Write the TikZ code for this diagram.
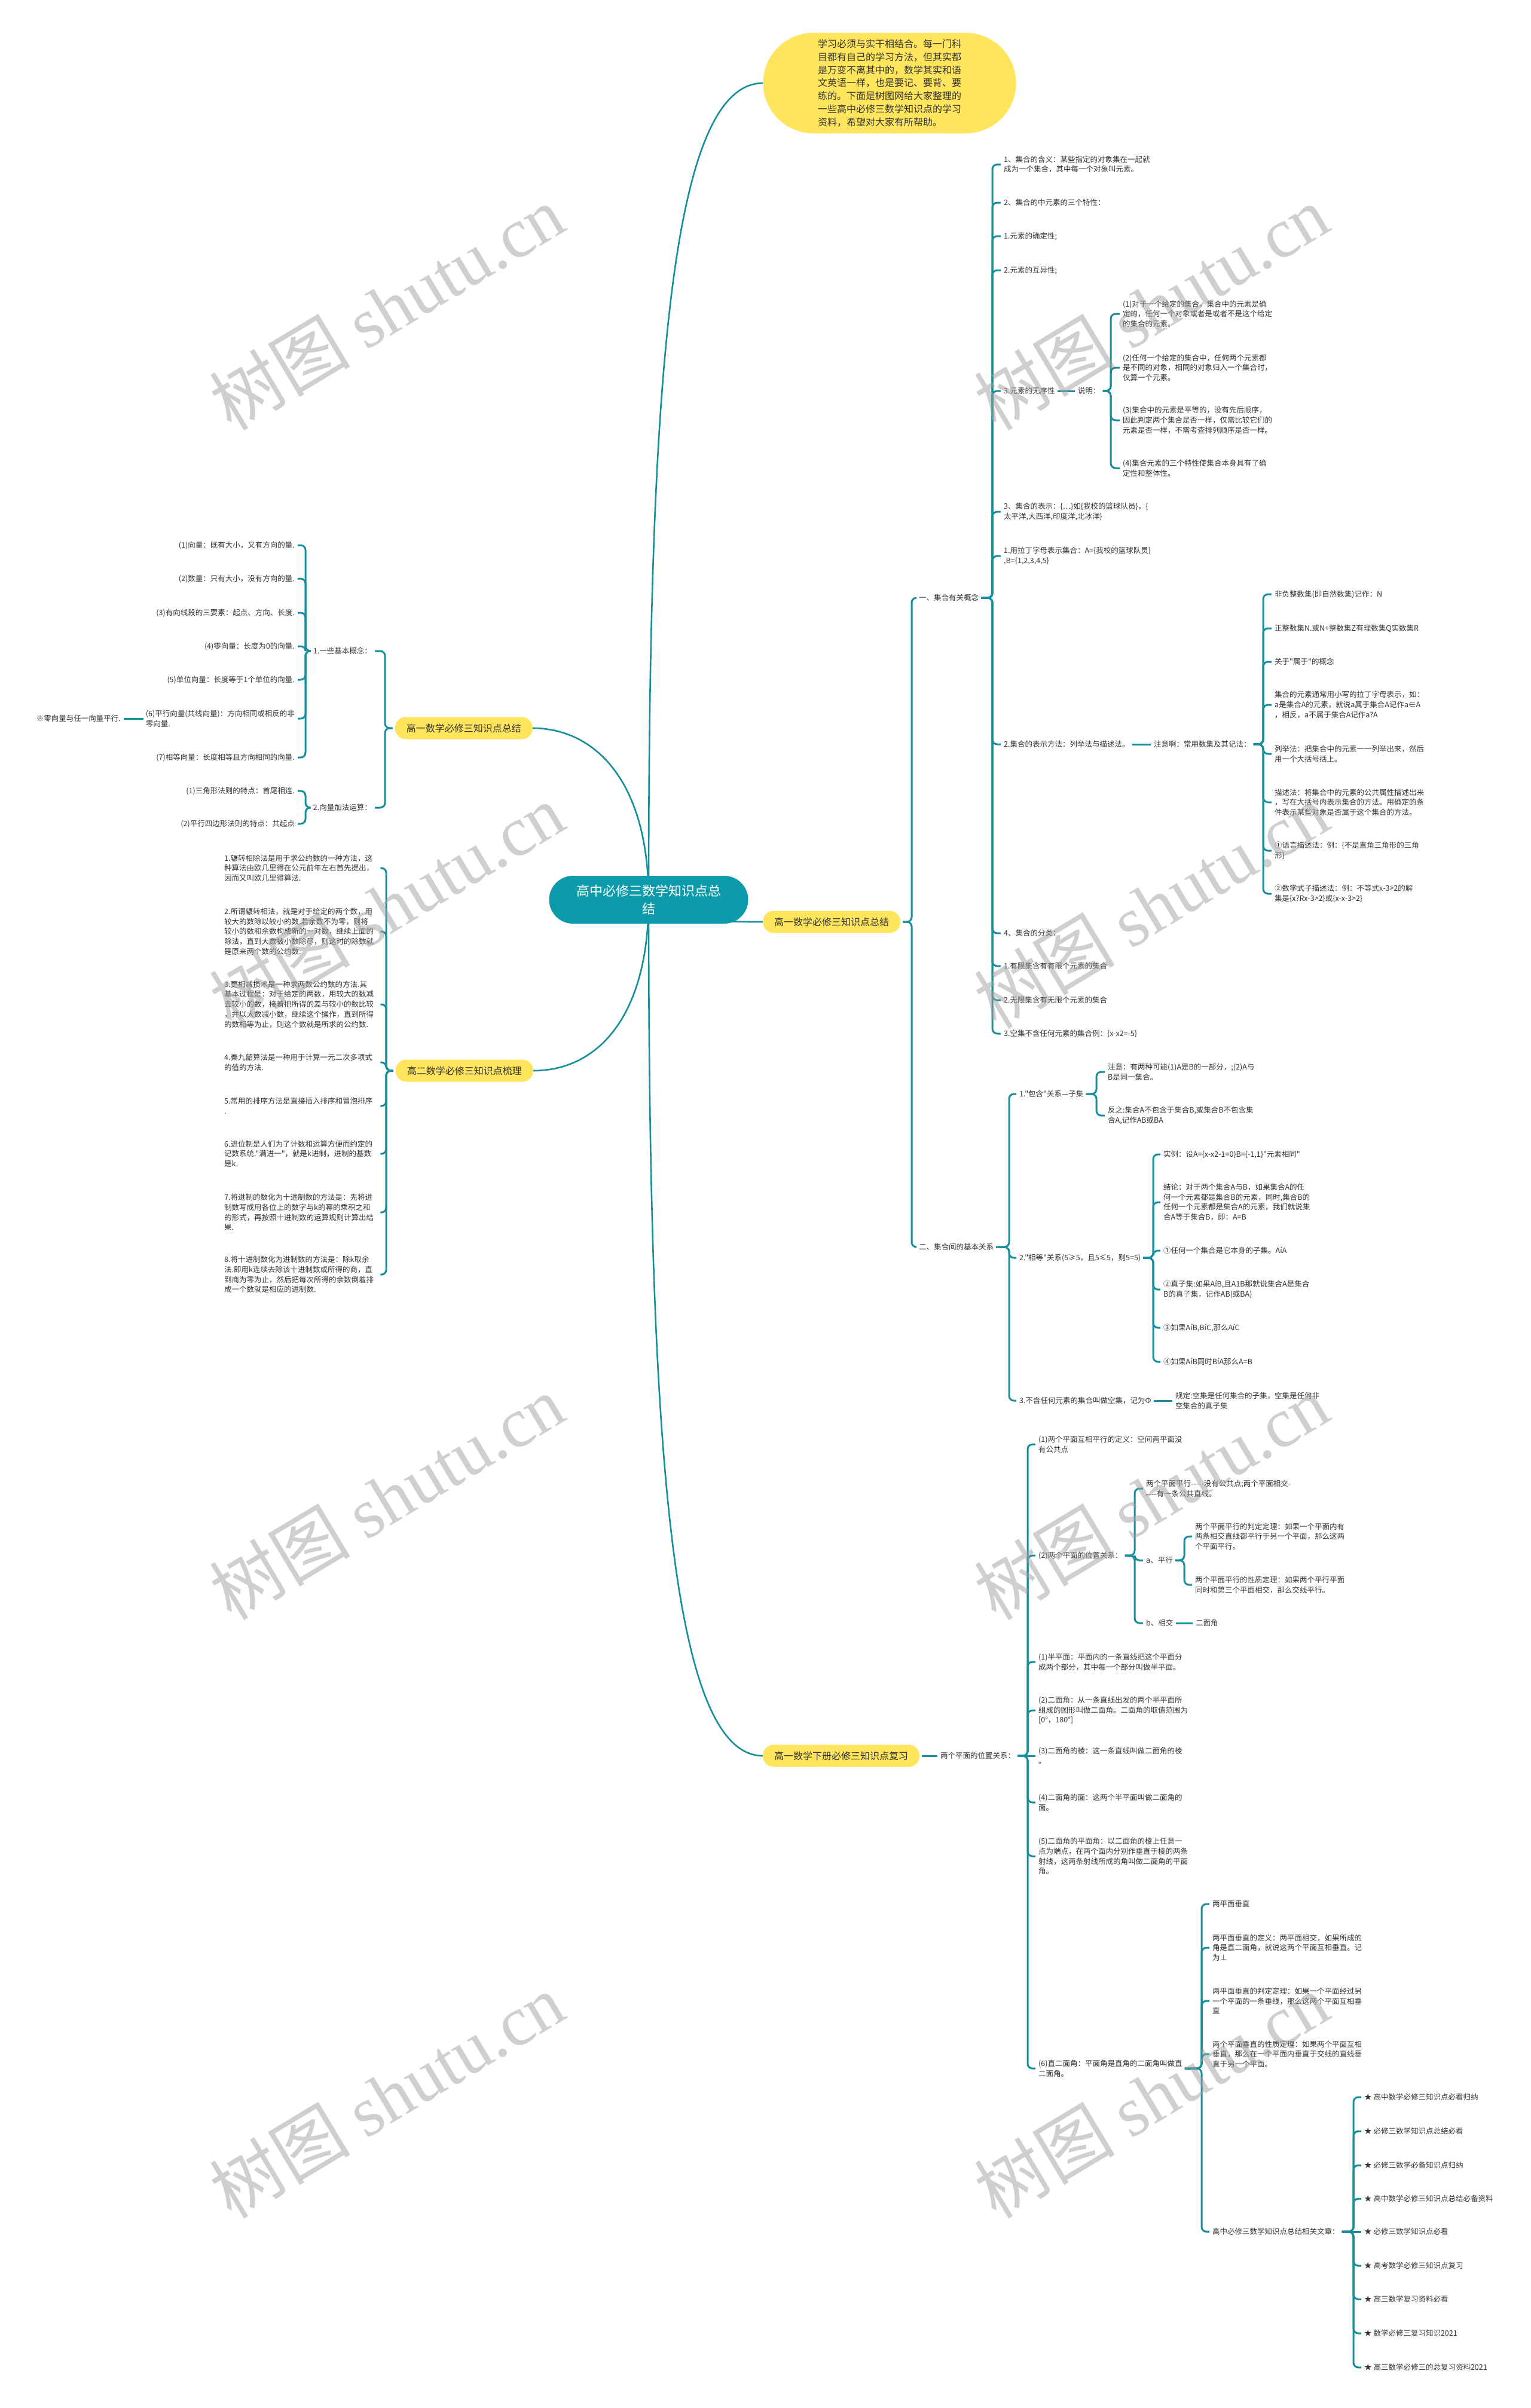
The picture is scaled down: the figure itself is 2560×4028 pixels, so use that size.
\documentclass[tikz,border=0pt]{standalone}
\usepackage{fontspec}
\newfontfamily\cjkf{Noto Sans CJK SC}
\newfontfamily\wmserif{Liberation Serif}
\usetikzlibrary{calc}
\pgfdeclarelayer{back}\pgfdeclarelayer{bg}\pgfdeclarelayer{front}
\pgfsetlayers{back,bg,main,front}
\definecolor{lk}{HTML}{168E9C}
\definecolor{cenc}{HTML}{0D9AAA}
\definecolor{yel}{HTML}{FFE55C}
\definecolor{txt}{HTML}{333333}
\definecolor{wmc}{HTML}{A0A0A0}
\tikzset{
 link/.style={draw=lk, line width=3pt, rounded corners=8pt},
 clink/.style={draw=lk, line width=2.6pt},
 txtnode/.style={inner sep=0pt, anchor=west, align=left, text=txt, font=\cjkf\fontsize{12.5}{16.7}\selectfont},
 txtleft/.style={txtnode, anchor=east},
 txtblock/.style={txtnode, text width=256pt},
 pillbox/.style={fill=yel, rounded corners=18pt, minimum height=37pt, inner xsep=19pt, inner ysep=0pt, text=txt, font=\cjkf\fontsize{16}{20}\selectfont},
 cenbox/.style={fill=cenc, text=white, rounded corners=40pt, minimum width=333pt, minimum height=80pt, inner sep=0pt, align=center, font=\cjkf\fontsize{22}{29.5}\selectfont},
 introbox/.style={fill=yel, rounded corners=84pt, minimum width=423pt, minimum height=168pt, inner sep=0pt, align=left, text=txt, font=\cjkf\fontsize{16}{21.7}\selectfont},
 wmark/.style={rotate=31, text=wmc, text opacity=0.5, inner sep=0pt, font=\cjkf\fontsize{118}{118}\selectfont}
}
\newcommand\rlink[3]{\draw[link] ([xshift=4pt]#1.east) -| (#2 |- #3.west) -- ([xshift=-5pt]#3.west);}
\newcommand\llink[3]{\draw[link] ([xshift=-4pt]#1.west) -| (#2 |- #3.east) -- ([xshift=5pt]#3.east);}
\newcommand\slink[2]{\draw[link] ([xshift=4pt]#1.east) -- ([xshift=-5pt]#2.west);}
\newcommand\slinkl[2]{\draw[link] ([xshift=-4pt]#1.west) -- ([xshift=5pt]#2.east);}
\begin{document}
\begin{tikzpicture}[x=1pt,y=-1pt]
\begin{pgfonlayer}{back}
\fill[white] (0,0) rectangle (2560,4028);
\end{pgfonlayer}
\useasboundingbox (0,0) rectangle (2560,4028);

% spine x coordinates
\coordinate (xA) at (1525,0);
\coordinate (x1) at (1660,0);
\coordinate (x2) at (1858,0);
\coordinate (x3) at (2113,0);
\coordinate (x4) at (1688,0);
\coordinate (x5) at (1834,0);
\coordinate (x6) at (1929,0);
\coordinate (x7) at (1719,0);
\coordinate (x8) at (1898,0);
\coordinate (x9) at (1981,0);
\coordinate (x10) at (2010,0);
\coordinate (x11) at (2264,0);
\coordinate (xL1) at (644,0);
\coordinate (xL2) at (511,0);
\coordinate (xL4) at (646,0);

% centre, intro, main branches
\node[cenbox] (cen) at (1085,1505) {高中必修三数学知识点总\\结};
\node[introbox] (intro) at (1488,139) {学习必须与实干相结合。每一门科\\目都有自己的学习方法，但其实都\\是万变不离其中的，数学其实和语\\文英语一样，也是要记、要背、要\\练的。下面是树图网给大家整理的\\一些高中必修三数学知识点的学习\\资料，希望对大家有所帮助。};
\node[pillbox, anchor=west] (rA) at (1276,1542) {高一数学必修三知识点总结};
\node[pillbox, anchor=west] (rB) at (1276,2937) {高一数学下册必修三知识点复习};
\node[pillbox, anchor=east] (lA) at (891,1218) {高一数学必修三知识点总结};
\node[pillbox, anchor=east] (lB) at (892,1791) {高二数学必修三知识点梳理};

% right A
\node[txtnode] (a1) at (1537,1000) {一、集合有关概念};
\node[txtnode] (a2) at (1537,2086) {二、集合间的基本关系};

\node[txtnode] (a1c1) at (1679,275) {1、集合的含义：某些指定的对象集在一起就\\成为一个集合，其中每一个对象叫元素。};
\node[txtnode] (a1c2) at (1679,339) {2、集合的中元素的三个特性：};
\node[txtnode] (a1c3) at (1679,395) {1.元素的确定性;};
\node[txtnode] (a1c4) at (1679,452) {2.元素的互异性;};
\node[txtnode] (a1c5) at (1679,654) {3.元素的无序性};
\node[txtnode] (a1c6) at (1679,856) {3、集合的表示：\{…\}如\{我校的篮球队员\}，\{\\太平洋,大西洋,印度洋,北冰洋\}};
\node[txtnode] (a1c7) at (1679,930) {1.用拉丁字母表示集合：A=\{我校的篮球队员\}\\,B=\{1,2,3,4,5\}};
\node[txtnode] (a1c8) at (1679,1245) {2.集合的表示方法：列举法与描述法。};
\node[txtnode] (a1c9) at (1679,1561) {4、集合的分类：};
\node[txtnode] (a1c10) at (1679,1616) {1.有限集含有有限个元素的集合};
\node[txtnode] (a1c11) at (1679,1673) {2.无限集含有无限个元素的集合};
\node[txtnode] (a1c12) at (1679,1729) {3.空集不含任何元素的集合例：\{x-x2=-5\}};

\node[txtnode] (sm) at (1803,654) {说明：};
\node[txtnode] (sm1) at (1878,525) {(1)对于一个给定的集合，集合中的元素是确\\定的，任何一个对象或者是或者不是这个给定\\的集合的元素。};
\node[txtnode] (sm2) at (1878,615) {(2)任何一个给定的集合中，任何两个元素都\\是不同的对象，相同的对象归入一个集合时，\\仅算一个元素。};
\node[txtnode] (sm3) at (1878,703) {(3)集合中的元素是平等的，没有先后顺序，\\因此判定两个集合是否一样，仅需比较它们的\\元素是否一样，不需考查排列顺序是否一样。};
\node[txtnode] (sm4) at (1878,783) {(4)集合元素的三个特性使集合本身具有了确\\定性和整体性。};

\node[txtnode] (zy) at (1930,1245) {注意啊：常用数集及其记法：};
\node[txtnode] (zy1) at (2132,994) {非负整数集(即自然数集)记作：N};
\node[txtnode] (zy2) at (2132,1051) {正整数集N.或N+整数集Z有理数集Q实数集R};
\node[txtnode] (zy3) at (2132,1107) {关于"属于"的概念};
\node[txtnode] (zy4) at (2132,1179) {集合的元素通常用小写的拉丁字母表示，如：\\a是集合A的元素，就说a属于集合A记作a∈A\\，相反，a不属于集合A记作a?A};
\node[txtnode] (zy5) at (2132,1261) {列举法：把集合中的元素一一列举出来，然后\\用一个大括号括上。};
\node[txtnode] (zy6) at (2132,1342) {描述法：将集合中的元素的公共属性描述出来\\，写在大括号内表示集合的方法。用确定的条\\件表示某些对象是否属于这个集合的方法。};
\node[txtnode] (zy7) at (2132,1423) {①语言描述法：例：\{不是直角三角形的三角\\形\}};
\node[txtnode] (zy8) at (2132,1495) {②数学式子描述法：例：不等式x-3>2的解\\集是\{x?Rx-3>2\}或\{x-x-3>2\}};

\node[txtnode] (b1) at (1705,1830) {1."包含"关系—子集};
\node[txtnode] (b2) at (1705,2104) {2."相等"关系(5≥5，且5≤5，则5=5)};
\node[txtnode] (b3) at (1705,2343) {3.不含任何元素的集合叫做空集，记为Φ};
\node[txtnode] (b11) at (1853,1793) {注意：有两种可能(1)A是B的一部分，;(2)A与\\B是同一集合。};
\node[txtnode] (b12) at (1853,1866) {反之:集合A不包含于集合B,或集合B不包含集\\合A,记作AB或BA};
\node[txtnode] (b21) at (1946,1931) {实例：设A=\{x-x2-1=0\}B=\{-1,1\}"元素相同"};
\node[txtnode] (b22) at (1946,2011) {结论：对于两个集合A与B，如果集合A的任\\何一个元素都是集合B的元素，同时,集合B的\\任何一个元素都是集合A的元素，我们就说集\\合A等于集合B，即：A=B};
\node[txtnode] (b23) at (1946,2092) {①任何一个集合是它本身的子集。AíA};
\node[txtnode] (b24) at (1946,2157) {②真子集:如果AíB,且A1B那就说集合A是集合\\B的真子集，记作AB(或BA)};
\node[txtnode] (b25) at (1946,2221) {③如果AíB,BíC,那么AíC};
\node[txtnode] (b26) at (1946,2278) {④如果AíB同时BíA那么A=B};
\node[txtnode] (b31) at (1966,2343) {规定:空集是任何集合的子集，空集是任何非\\空集合的真子集};

% right B
\node[txtnode] (p0) at (1573,2937) {两个平面的位置关系：};
\node[txtnode] (p1) at (1737,2416) {(1)两个平面互相平行的定义：空间两平面没\\有公共点};
\node[txtnode] (p2) at (1737,2602) {(2)两个平面的位置关系：};
\node[txtnode] (p3) at (1737,2780) {(1)半平面：平面内的一条直线把这个平面分\\成两个部分，其中每一个部分叫做半平面。};
\node[txtnode] (p4) at (1737,2861) {(2)二面角：从一条直线出发的两个半平面所\\组成的图形叫做二面角。二面角的取值范围为\\{[}0°，180°{]}};
\node[txtnode] (p5) at (1737,2937) {(3)二面角的棱：这一条直线叫做二面角的棱\\。};
\node[txtnode] (p6) at (1737,3015) {(4)二面角的面：这两个半平面叫做二面角的\\面。};
\node[txtnode] (p7) at (1737,3105) {(5)二面角的平面角：以二面角的棱上任意一\\点为端点，在两个面内分别作垂直于棱的两条\\射线，这两条射线所成的角叫做二面角的平面\\角。};
\node[txtnode] (p8) at (1737,3460) {(6)直二面角：平面角是直角的二面角叫做直\\二面角。};
\node[txtnode] (q1) at (1917,2490) {两个平面平行-----没有公共点;两个平面相交-\\----有一条公共直线。};
\node[txtnode] (q2) at (1917,2610) {a、平行};
\node[txtnode] (q3) at (1917,2715) {b、相交};
\node[txtnode] (q21) at (1999,2570) {两个平面平行的判定定理：如果一个平面内有\\两条相交直线都平行于另一个平面，那么这两\\个平面平行。};
\node[txtnode] (q22) at (1999,2651) {两个平面平行的性质定理：如果两个平行平面\\同时和第三个平面相交，那么交线平行。};
\node[txtnode] (q31) at (2000,2715) {二面角};
\node[txtnode] (r1) at (2028,3185) {两平面垂直};
\node[txtnode] (r2) at (2028,3258) {两平面垂直的定义：两平面相交，如果所成的\\角是直二面角，就说这两个平面互相垂直。记\\为⊥};
\node[txtnode] (r3) at (2028,3347) {两平面垂直的判定定理：如果一个平面经过另\\一个平面的一条垂线，那么这两个平面互相垂\\直};
\node[txtnode] (r4) at (2028,3436) {两个平面垂直的性质定理：如果两个平面互相\\垂直，那么在一个平面内垂直于交线的直线垂\\直于另一个平面。};
\node[txtnode] (r5) at (2028,3733) {高中必修三数学知识点总结相关文章：};
\node[txtnode] (s1) at (2282,3508) {★ 高中数学必修三知识点必看归纳};
\node[txtnode] (s2) at (2282,3565) {★ 必修三数学知识点总结必看};
\node[txtnode] (s3) at (2282,3622) {★ 必修三数学必备知识点归纳};
\node[txtnode] (s4) at (2282,3678) {★ 高中数学必修三知识点总结必备资料};
\node[txtnode] (s5) at (2282,3733) {★ 必修三数学知识点必看};
\node[txtnode] (s6) at (2282,3790) {★ 高考数学必修三知识点复习};
\node[txtnode] (s7) at (2282,3846) {★ 高三数学复习资料必看};
\node[txtnode] (s8) at (2282,3903) {★ 数学必修三复习知识2021};
\node[txtnode] (s9) at (2282,3960) {★ 高三数学必修三的总复习资料2021};

% left A
\node[txtleft] (la1) at (622,1089) {1.一些基本概念：};
\node[txtleft] (la2) at (622,1351) {2.向量加法运算：};
\node[txtleft] (la11) at (493,912) {(1)向量：既有大小，又有方向的量.};
\node[txtleft] (la12) at (493,968) {(2)数量：只有大小，没有方向的量.};
\node[txtleft] (la13) at (493,1025) {(3)有向线段的三要素：起点、方向、长度.};
\node[txtleft] (la14) at (493,1081) {(4)零向量：长度为0的向量.};
\node[txtleft] (la15) at (493,1137) {(5)单位向量：长度等于1个单位的向量.};
\node[txtleft] (la16) at (493,1202) {(6)平行向量(共线向量)：方向相同或相反的非\\零向量.};
\node[txtleft] (la17) at (493,1267) {(7)相等向量：长度相等且方向相同的向量.};
\node[txtleft] (la161) at (202,1202) {※零向量与任一向量平行.};
\node[txtleft] (la21) at (493,1323) {(1)三角形法则的特点：首尾相连.};
\node[txtleft] (la22) at (493,1378) {(2)平行四边形法则的特点：共起点};

% left B
\node[txtblock] (lb1) at (375,1452) {1.辗转相除法是用于求公约数的一种方法，这\\种算法由欧几里得在公元前年左右首先提出，\\因而又叫欧几里得算法.};
\node[txtblock] (lb2) at (375,1558) {2.所谓辗转相法，就是对于给定的两个数，用\\较大的数除以较小的数.若余数不为零，则将\\较小的数和余数构成新的一对数，继续上面的\\除法，直到大数被小数除尽，则这时的除数就\\是原来两个数的公约数.};
\node[txtblock] (lb3) at (375,1680) {3.更相减损术是一种求两数公约数的方法.其\\基本过程是：对于给定的两数，用较大的数减\\去较小的数，接着把所得的差与较小的数比较\\，并以大数减小数，继续这个操作，直到所得\\的数相等为止，则这个数就是所求的公约数.};
\node[txtblock] (lb4) at (375,1777) {4.秦九韶算法是一种用于计算一元二次多项式\\的值的方法.};
\node[txtblock] (lb5) at (375,1850) {5.常用的排序方法是直接插入排序和冒泡排序\\.};
\node[txtblock] (lb6) at (375,1930) {6.进位制是人们为了计数和运算方便而约定的\\记数系统."满进一"，就是k进制，进制的基数\\是k.};
\node[txtblock] (lb7) at (375,2028) {7.将进制的数化为十进制数的方法是：先将进\\制数写成用各位上的数字与k的幂的乘积之和\\的形式，再按照十进制数的运算规则计算出结\\果.};
\node[txtblock] (lb8) at (375,2132) {8.将十进制数化为进制数的方法是：除k取余\\法.即用k连续去除该十进制数或所得的商，直\\到商为零为止，然后把每次所得的余数倒着排\\成一个数就是相应的进制数.};

\begin{pgfonlayer}{bg}
\draw[clink] (cen.center) .. controls (1085,651) and (1120,139) .. (intro.west);
\draw[clink] (cen.center) .. controls (1160,1542) and (1200,1542) .. (rA.west);
\draw[clink] (cen.center) .. controls (1085,2400) and (1120,2937) .. (rB.west);
\draw[clink] (cen.center) .. controls (1085,1300) and (990,1218) .. (lA.east);
\draw[clink] (cen.center) .. controls (1085,1700) and (1000,1791) .. (lB.east);

\rlink{rA}{xA}{a1}\rlink{rA}{xA}{a2}
\foreach \c in {a1c1,a1c2,a1c3,a1c4,a1c5,a1c6,a1c7,a1c8,a1c9,a1c10,a1c11,a1c12}{\rlink{a1}{x1}{\c}}
\slink{a1c5}{sm}
\foreach \c in {sm1,sm2,sm3,sm4}{\rlink{sm}{x2}{\c}}
\slink{a1c8}{zy}
\foreach \c in {zy1,zy2,zy3,zy4,zy5,zy6,zy7,zy8}{\rlink{zy}{x3}{\c}}
\foreach \c in {b1,b2,b3}{\rlink{a2}{x4}{\c}}
\foreach \c in {b11,b12}{\rlink{b1}{x5}{\c}}
\foreach \c in {b21,b22,b23,b24,b25,b26}{\rlink{b2}{x6}{\c}}
\slink{b3}{b31}

\slink{rB}{p0}
\foreach \c in {p1,p2,p3,p4,p6,p7,p8}{\rlink{p0}{x7}{\c}}
\slink{p0}{p5}
\foreach \c in {q1,q2,q3}{\rlink{p2}{x8}{\c}}
\foreach \c in {q21,q22}{\rlink{q2}{x9}{\c}}
\slink{q3}{q31}
\foreach \c in {r1,r2,r3,r4,r5}{\rlink{p8}{x10}{\c}}
\foreach \c in {s1,s2,s3,s4,s6,s7,s8,s9}{\rlink{r5}{x11}{\c}}
\slink{r5}{s5}

\llink{lA}{xL1}{la1}\llink{lA}{xL1}{la2}
\foreach \c in {la11,la12,la13,la14,la15,la16,la17}{\llink{la1}{xL2}{\c}}
\slinkl{la16}{la161}
\foreach \c in {la21,la22}{\llink{la2}{xL2}{\c}}
\foreach \c in {lb1,lb2,lb3,lb4,lb5,lb6,lb7,lb8}{\llink{lB}{xL4}{\c}}
\end{pgfonlayer}

\begin{pgfonlayer}{front}
\foreach \px/\py in {647/514,1926/514,647/1515,1926/1515,647/2504,1926/2504,647/3505,1926/3505}{
 \node[wmark] at (\px,\py) {树图 {\wmserif shutu.cn}};
}
\end{pgfonlayer}
\end{tikzpicture}
\end{document}
